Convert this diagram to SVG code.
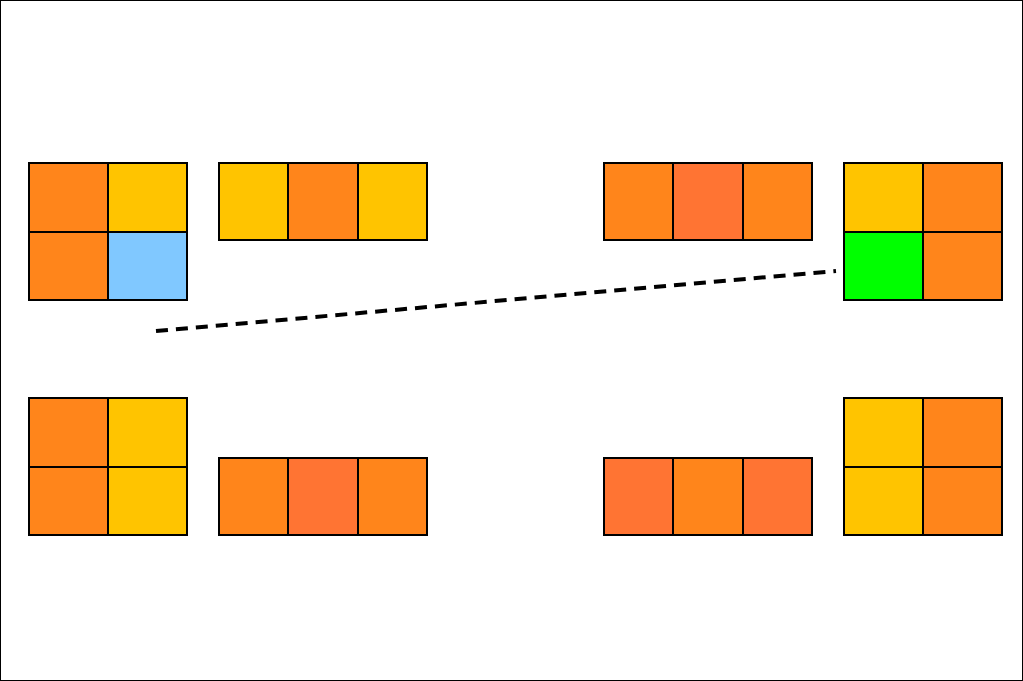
<svg xmlns="http://www.w3.org/2000/svg" width="1023" height="681" viewBox="0 0 1023 681">
<style>
rect{stroke:#000;stroke-width:2}
.o{fill:#FF851B}.y{fill:#FFC400}.b{fill:#80C8FF}.r{fill:#FF7433}.g{fill:#00FF00}
</style>
<rect width="1023" height="681" fill="#fff" stroke="none"/>
<g id="grid-tl">
<rect class="o" x="29" y="163" width="79" height="69"/><rect class="y" x="108" y="163" width="79" height="69"/>
<rect class="o" x="29" y="232" width="79" height="68"/><rect class="b" x="108" y="232" width="79" height="68"/>
</g>
<g id="row-tl">
<rect class="y" x="219" y="163" width="69" height="77"/><rect class="o" x="288" y="163" width="70" height="77"/><rect class="y" x="358" y="163" width="69" height="77"/>
</g>
<g id="row-tr">
<rect class="o" x="604" y="163" width="69" height="77"/><rect class="r" x="673" y="163" width="70" height="77"/><rect class="o" x="743" y="163" width="69" height="77"/>
</g>
<g id="grid-tr">
<rect class="y" x="844" y="163" width="79" height="69"/><rect class="o" x="923" y="163" width="79" height="69"/>
<rect class="g" x="844" y="232" width="79" height="68"/><rect class="o" x="923" y="232" width="79" height="68"/>
</g>
<g id="grid-bl">
<rect class="o" x="29" y="398" width="79" height="69"/><rect class="y" x="108" y="398" width="79" height="69"/>
<rect class="o" x="29" y="467" width="79" height="68"/><rect class="y" x="108" y="467" width="79" height="68"/>
</g>
<g id="row-bl">
<rect class="o" x="219" y="458" width="69" height="77"/><rect class="r" x="288" y="458" width="70" height="77"/><rect class="o" x="358" y="458" width="69" height="77"/>
</g>
<g id="row-br">
<rect class="r" x="604" y="458" width="69" height="77"/><rect class="o" x="673" y="458" width="70" height="77"/><rect class="r" x="743" y="458" width="69" height="77"/>
</g>
<g id="grid-br">
<rect class="y" x="844" y="398" width="79" height="69"/><rect class="o" x="923" y="398" width="79" height="69"/>
<rect class="y" x="844" y="467" width="79" height="68"/><rect class="o" x="923" y="467" width="79" height="68"/>
</g>
<g id="connectors">
<line x1="156" y1="331" x2="836" y2="271" stroke="#000" stroke-width="4" stroke-dasharray="12 8"/>
</g>
</svg>
